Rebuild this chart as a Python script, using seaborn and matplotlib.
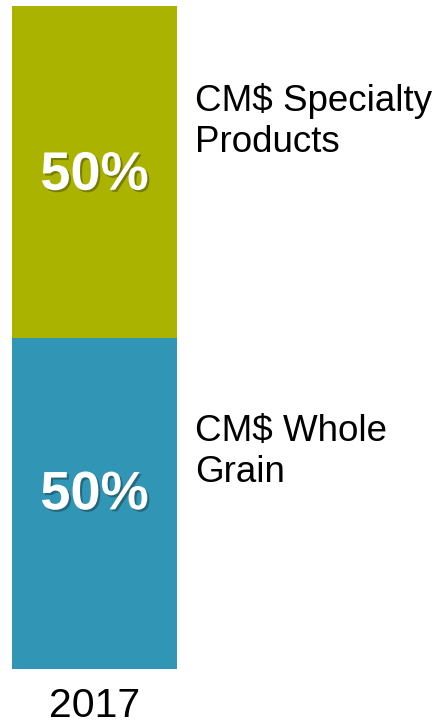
import matplotlib
matplotlib.use("Agg")
import matplotlib.pyplot as plt
import matplotlib.patheffects as pe
import seaborn as sns

# Share of CM$ by business line
years = ["2017"]
whole_grain = [50]
specialty = [50]
segment_names = ["CM$ Whole\nGrain", "CM$ Specialty\nProducts"]
segment_colors = ["#3196B5", "#AAB400"]

sns.set_theme(style="white")
plt.rcParams["font.family"] = ["Liberation Sans", "DejaVu Sans"]

fig = plt.figure(figsize=(4.34, 7.24), dpi=100)
ax = fig.add_axes([12 / 434, 55 / 724, 165 / 434, 663 / 724])

totals = [w + s for w, s in zip(whole_grain, specialty)]

# Stacked bar: draw the total first, then the bottom segment over it
sns.barplot(x=years, y=totals, color=segment_colors[1], width=1.0,
            saturation=1, ax=ax, linewidth=0)
sns.barplot(x=years, y=whole_grain, color=segment_colors[0], width=1.0,
            saturation=1, ax=ax, linewidth=0)

ax.set_xlim(-0.5, 0.5)
ax.set_ylim(0, max(totals))
ax.set_yticks([])
ax.set_ylabel("")
ax.tick_params(axis="x", length=0, pad=13, labelsize=29.5, labelcolor="black")
for spine in ax.spines.values():
    spine.set_visible(False)

shadow = [pe.withSimplePatchShadow(offset=(1.5, -1.5), shadow_rgbFace="black", alpha=0.3)]

bottoms = [0, whole_grain[0]]
values = [whole_grain[0], specialty[0]]
value_nudge = [1.2, -0.6]
for i, (b, v) in enumerate(zip(bottoms, values)):
    center = b + v / 2
    ax.text(0, center + value_nudge[i], f"{v}%", ha="center", va="center",
            color="white", fontsize=39, fontweight="bold", path_effects=shadow)
    ax.text(1.11, center + 13.4, segment_names[i], transform=ax.get_yaxis_transform(),
            ha="left", va="top", fontsize=26.5, color="black",
            linespacing=1.22, clip_on=False)

fig.savefig("out.png", dpi=100)
